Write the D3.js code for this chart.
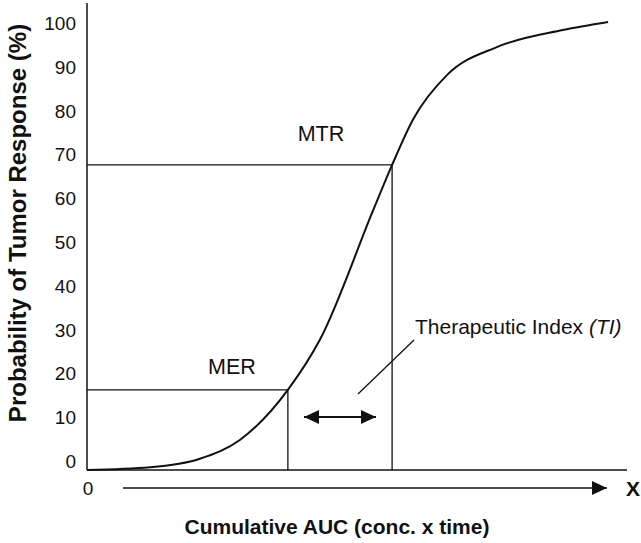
<!DOCTYPE html>
<html>
<head>
<meta charset="utf-8">
<script src="https://cdn.jsdelivr.net/npm/d3@7"></script>
<style>
  html, body { margin: 0; padding: 0; background: #fff; }
  svg { display: block; font-family: "Liberation Sans", Arial, Helvetica, sans-serif; }
</style>
</head>
<body>
<svg id="chart" width="641" height="543"></svg>
<script>
// Dose–response curve: cumulative exposure (AUC) vs probability of tumor response
const aucValues = [0, 11.7, 20.9, 28.3, 37.2, 43.1, 53, 56.5, 60.4, 66.7, 75.9, 88.1, 96.5];
const responseValues = [0, 0.6, 2.5, 6.7, 17.9, 29, 58, 68.1, 78.3, 88.2, 94.4, 98.2, 100];
const yTickValues = [0, 10, 20, 30, 40, 50, 60, 70, 80, 90, 100];

// Minimum effective response and maximum tolerated response
const thresholdNames = ["MER", "MTR"];
const thresholdAuc = [37.2, 56.5];
const thresholdResponse = [17.9, 68.1];

const svg = d3.select("#chart");

const x = d3.scaleLinear().domain([0, 100]).range([87, 627]);
const y = d3.scaleLinear().domain([0, 100]).range([470, 22]);
// the printed tick numbers sit on a slightly tighter grid than the plot area
const yTickPos = d3.scaleLinear().domain([0, 100]).range([461, 22.7]);

const ink = "#111";

// y axis numbers
const yAxis = d3.axisLeft(yTickPos).tickValues(yTickValues).tickSize(0).tickPadding(0);
const gy = svg.append("g").attr("transform", "translate(76,0)").call(yAxis);
gy.select(".domain").remove();
gy.selectAll("text")
  .attr("font-size", 19)
  .attr("font-family", "Liberation Sans, Arial, sans-serif")
  .attr("fill", ink)
  .attr("dy", "0.35em");

// axis frame: vertical axis and baseline
svg.append("line")
  .attr("x1", x(0)).attr("x2", x(0))
  .attr("y1", 3).attr("y2", y(0))
  .attr("stroke", ink).attr("stroke-width", 1.5);
svg.append("line")
  .attr("x1", x(0)).attr("x2", x(100))
  .attr("y1", y(0)).attr("y2", y(0))
  .attr("stroke", ink).attr("stroke-width", 1.5);

// threshold guide lines
thresholdNames.forEach((name, i) => {
  svg.append("line")
    .attr("x1", x(0)).attr("x2", x(thresholdAuc[i]))
    .attr("y1", y(thresholdResponse[i])).attr("y2", y(thresholdResponse[i]))
    .attr("stroke", ink).attr("stroke-width", 1.3);
  svg.append("line")
    .attr("x1", x(thresholdAuc[i])).attr("x2", x(thresholdAuc[i]))
    .attr("y1", y(thresholdResponse[i])).attr("y2", y(0))
    .attr("stroke", ink).attr("stroke-width", 1.3);
});

// response curve
const pts = aucValues.map((a, i) => [a, responseValues[i]]);
svg.append("path")
  .datum(pts)
  .attr("fill", "none")
  .attr("stroke", ink)
  .attr("stroke-width", 2)
  .attr("d", d3.line().x(d => x(d[0])).y(d => y(d[1])).curve(d3.curveMonotoneX));

// threshold labels
svg.append("text")
  .attr("x", 232).attr("y", y(thresholdResponse[0]) - 16)
  .attr("text-anchor", "middle").attr("font-size", 21.5).attr("fill", ink)
  .text(thresholdNames[0]);
svg.append("text")
  .attr("x", 321).attr("y", y(thresholdResponse[1]) - 24)
  .attr("text-anchor", "middle").attr("font-size", 21.5).attr("fill", ink)
  .text(thresholdNames[1]);

// arrow markers
const defs = svg.append("defs");
defs.append("marker")
  .attr("id", "head").attr("viewBox", "0 0 15 14")
  .attr("refX", 15).attr("refY", 7)
  .attr("markerWidth", 15).attr("markerHeight", 14)
  .attr("markerUnits", "userSpaceOnUse")
  .attr("orient", "auto-start-reverse")
  .append("path").attr("d", "M0,0 L15,7 L0,14 Z").attr("fill", ink);

// therapeutic window double arrow
const midAuc = (thresholdAuc[0] + thresholdAuc[1]) / 2;
svg.append("line")
  .attr("x1", x(midAuc) - 36).attr("x2", x(midAuc) + 36)
  .attr("y1", 417).attr("y2", 417)
  .attr("stroke", ink).attr("stroke-width", 2)
  .attr("marker-start", "url(#head)")
  .attr("marker-end", "url(#head)");

// pointer to the therapeutic index label
svg.append("line")
  .attr("x1", 358).attr("y1", 394)
  .attr("x2", 414).attr("y2", 340)
  .attr("stroke", ink).attr("stroke-width", 1.3);

const ti = svg.append("text")
  .attr("x", 415).attr("y", 334)
  .attr("font-size", 21).attr("fill", ink);
ti.append("tspan").text("Therapeutic Index ");
ti.append("tspan").attr("font-style", "italic").text("(TI)");

// lower exposure arrow with origin and X marks
svg.append("text")
  .attr("x", x(0) + 1).attr("y", 495)
  .attr("text-anchor", "middle").attr("font-size", 19).attr("fill", ink)
  .text("0");
svg.append("line")
  .attr("x1", 123).attr("x2", 607)
  .attr("y1", 488).attr("y2", 488)
  .attr("stroke", ink).attr("stroke-width", 1.5)
  .attr("marker-end", "url(#head)");
svg.append("text")
  .attr("x", 633).attr("y", 496)
  .attr("text-anchor", "middle").attr("font-size", 21).attr("font-weight", "bold").attr("fill", ink)
  .text("X");

// axis titles
svg.append("text")
  .attr("x", 337).attr("y", 534)
  .attr("text-anchor", "middle").attr("font-size", 21).attr("font-weight", "bold").attr("fill", ink)
  .text("Cumulative AUC (conc. x time)");
svg.append("text")
  .attr("transform", "translate(26,223) rotate(-90)")
  .attr("text-anchor", "middle").attr("font-size", 24).attr("font-weight", "bold").attr("fill", ink)
  .text("Probability of Tumor Response (%)");
</script>
</body>
</html>
